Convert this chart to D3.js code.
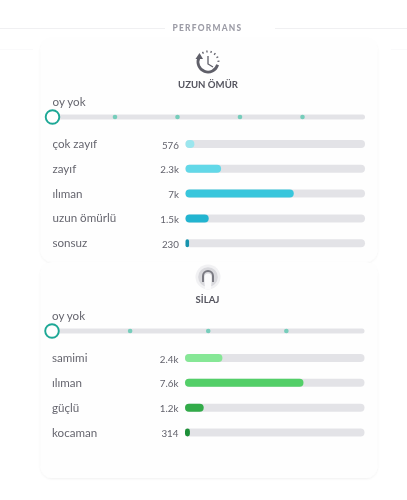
<!DOCTYPE html>
<html><head><meta charset="utf-8">
<script src="https://cdn.jsdelivr.net/npm/d3@7"></script>
<style>html,body{margin:0;padding:0;background:#fff}svg{display:block}text{font-family:"Lato","Open Sans",sans-serif}</style>
</head><body><svg id="c" width="407" height="500"></svg>
<script>
const title = "PERFORMANS";
const noVote = "oy yok";
const card1Title = "UZUN ÖMÜR";
const card1Labels = ["çok zayıf","zayıf","ılıman","uzun ömürlü","sonsuz"];
const card1Values = [576,2300,7000,1500,230];
const card1Text = ["576","2.3k","7k","1.5k","230"];
const card1Colors = ["#9be6ee","#62d8e8","#38c6dc","#22b4d0","#1493ad"];
const card2Title = "SİLAJ";
const card2Labels = ["samimi","ılıman","güçlü","kocaman"];
const card2Values = [2400,7600,1200,314];
const card2Text = ["2.4k","7.6k","1.2k","314"];
const card2Colors = ["#86e796","#52cf68","#33ab4a","#1f8f37"];

const svg = d3.select("#c");
const defs = svg.append("defs");
const sh = defs.append("filter").attr("id","sh").attr("x","-10%").attr("y","-10%").attr("width","120%").attr("height","120%");
sh.append("feDropShadow").attr("dx",0).attr("dy",1).attr("stdDeviation",1).attr("flood-color","#000").attr("flood-opacity",0.06);
const soft = defs.append("filter").attr("id","soft");
soft.append("feGaussianBlur").attr("stdDeviation",0.35);

// header rules and neighbouring cards
svg.append("g").attr("stroke","#f0f0f2").selectAll("line").data([[0,165],[275,407]]).join("line")
  .attr("x1",d=>d[0]).attr("x2",d=>d[1]).attr("y1",28.5).attr("y2",28.5);
svg.append("g").attr("fill","none").attr("stroke","#fafafb").selectAll("line").data([[0,33],[391,407]]).join("line")
  .attr("x1",d=>d[0]).attr("x2",d=>d[1]).attr("y1",49.5).attr("y2",49.5);

const main = svg.append("g").attr("filter","url(#soft)");
main.append("text").attr("x",207.5).attr("y",31.2).attr("text-anchor","middle")
  .attr("font-size",8.4).attr("font-weight",900).attr("letter-spacing",1.25).attr("fill","#9c9ca6").text(title);

function card(cfg){
  const g = main.append("g");
  g.append("rect").attr("x",40.5).attr("y",cfg.top).attr("width",337).attr("height",cfg.h).attr("rx",12)
    .attr("fill","#fefefe").attr("filter","url(#sh)");
  g.append("text").attr("x",208+cfg.dx).attr("y",cfg.titleY).attr("text-anchor","middle")
    .attr("font-size",cfg.titleSize).attr("font-weight",700).attr("fill","#55555f").text(cfg.title);
  g.append("text").attr("x",52.5+cfg.dx).attr("y",cfg.voteY).attr("font-size",11.6).attr("fill","#66666f").text(noVote);

  // rating slider: one step per label, a dot at each inner step
  const n = cfg.labels.length;
  const rx = d3.scaleLinear().domain([0,n]).range([52.5+cfg.dx,365+cfg.dx]);
  const sy = cfg.sliderY;
  g.append("rect").attr("x",rx(0)).attr("y",sy-2.5).attr("width",rx(n)-rx(0)).attr("height",5).attr("rx",2.5).attr("fill","#e3e3e7");
  g.selectAll(".dot").data(d3.range(1,n)).join("circle")
    .attr("cx",d=>rx(d)).attr("cy",sy).attr("r",2.3).attr("fill","#76cdbb");
  g.append("circle").attr("cx",rx(0)).attr("cy",sy).attr("r",6.8).attr("fill","#fff").attr("stroke","#1fa896").attr("stroke-width",1.9);

  // bars
  const x = d3.scaleLinear().domain([0,d3.sum(cfg.values)]).range([185.5+cfg.dx,365+cfg.dx]);
  const y = d3.scalePoint().domain(cfg.labels).range(cfg.yRange);
  const rows = g.selectAll(".row").data(cfg.labels).join("g");
  rows.append("text").attr("x",52.5+cfg.dx).attr("y",d=>y(d)+4).attr("font-size",11.6).attr("fill","#66666f").text(d=>d);
  rows.append("text").attr("x",179+cfg.dx).attr("y",d=>y(d)+4.5).attr("text-anchor","end").attr("font-size",9.8).attr("fill","#62626c")
    .text((d,i)=>cfg.text[i]);
  rows.append("rect").attr("x",x(0)).attr("y",d=>y(d)-4).attr("width",x.range()[1]-x(0)).attr("height",8).attr("rx",4).attr("fill","#e3e3e7");
  rows.append("rect").attr("x",x(0)).attr("y",d=>y(d)-4).attr("width",(d,i)=>x(cfg.values[i])-x(0)).attr("height",8)
    .attr("rx",(d,i)=>Math.min(4,(x(cfg.values[i])-x(0))/2)).attr("fill",(d,i)=>cfg.colors[i]);
  return g;
}

card({top:38,h:224,dx:0,title:card1Title,titleY:88.3,titleSize:9.6,voteY:105.5,sliderY:117,
  labels:card1Labels,values:card1Values,text:card1Text,colors:card1Colors,yRange:[144,243.2]});
card({top:262,h:216,dx:-0.5,title:card2Title,titleY:302.5,titleSize:9.6,voteY:320,sliderY:331,
  labels:card2Labels,values:card2Values,text:card2Text,colors:card2Colors,yRange:[358,432.5]});

// clock icon
const ic = main.append("g").attr("transform","translate(208,62)").attr("fill","none");
const ink = "#5f5f69";
ic.append("path").attr("d",d3.arc()({innerRadius:8.6,outerRadius:11.4,startAngle:1.85,endAngle:5.15})).attr("fill",ink);
ic.append("path").attr("d",d3.line()([[-12.5,-3],[-5,-3],[-8.5,-9]])).attr("fill",ink);
ic.append("path").attr("d",d3.line()([[0,-6],[0,2],[5,5]])).attr("stroke",ink).attr("stroke-width",1.3);
ic.selectAll(".t").data(d3.range(-0.5,1.9,0.4)).join("line")
  .attr("x1",d=>Math.sin(d)*9.5).attr("y1",d=>-Math.cos(d)*9.5)
  .attr("x2",d=>Math.sin(d)*11.5).attr("y2",d=>-Math.cos(d)*11.5)
  .attr("stroke",ink).attr("stroke-width",1.3);

// silage icon
const si = main.append("g").attr("transform","translate(208,277)");
si.append("circle").attr("r",12.5).attr("fill","#f1f1f3");
si.append("circle").attr("r",9.8).attr("fill","#d9d9dd");
si.append("path").attr("d","M-5,5V-1A5,5 0 0 1 5,-1V5").attr("fill","none").attr("stroke","#7a7a82").attr("stroke-width",2);
si.append("path").attr("d","M-3.5,5V0A3.5,3.5 0 0 1 3.5,0V5L3,12H-3Z").attr("fill","#fbfbfc");
</script></body></html>
